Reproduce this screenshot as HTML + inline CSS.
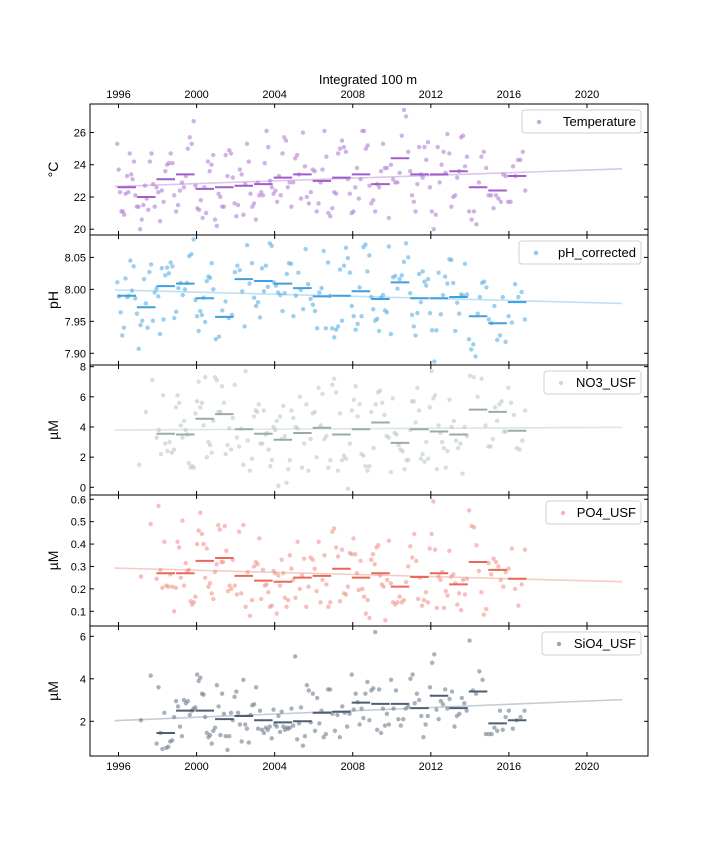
<!DOCTYPE html>
<html><head><meta charset="utf-8"><style>
body{margin:0;background:#fff;}
svg{display:block;font-family:"Liberation Sans",sans-serif;}
</style></head><body>
<svg id="chart" width="720" height="864" viewBox="0 0 720 864"></svg>
<script>
const years=[1996,1997,1998,1999,2000,2001,2002,2003,2004,2005,2006,2007,2008,2009,2010,2011,2012,2013,2014,2015,2016];
const xTicks=[1996,2000,2004,2008,2012,2016,2020];
// Temperature
const tempYears=years;
const tempPoints=[[25.3,23.7,22.3,21.1,21.1,20.9,22.2,23.3,22.3,24.7,23.4,23.1,24.2,22.1],[21.4,21.4,20.0,20.6,21.5,22.7,21.9,21.2,24.2,24.7,22.8,21.4],[22.6,22.3,20.5,22.4,21.7,23.6,24.0,24.1,24.7,24.1,22.1],[21.1,21.5,22.4,22.9,22.6,23.3,25.0,25.7,25.3,26.7],[22.7,21.3,21.2,21.8,20.7,22.6,21.0,24.2,23.6,24.0,24.6],[20.6,20.2,22.2,22.0,21.4,21.4,24.6,23.3,24.9,24.7,23.2],[21.6,20.8,21.5,23.7,23.4,20.9,22.8,25.3,24.2,22.2,21.4],[21.6,20.6,22.9,22.1,22.3,22.1,24.1,26.1,25.1,23.0,22.6],[22.2,22.4,21.7,23.3,22.1,24.7,25.7,25.5,22.6,22.9,21.4],[22.9,24.4,24.6,23.4,21.9,26.0,23.9,22.0,21.6,22.3],[23.7,23.6,21.1,21.6,22.9,23.7,26.1,24.5,21.0,20.8],[21.3,22.3,22.2,24.7,25.0,25.5,25.1,24.8,23.1,22.2],[21.0,21.1,22.6,23.8,21.9,23.1,26.1,26.1,25.0,25.2,22.7],[21.6,21.8,21.1,22.8,22.6,23.6,25.3,23.8,23.8,20.7],[24.0,23.1,22.9,22.9,23.5,25.8,27.4,27.0,24.8],[23.6,22.1,21.7,21.1,22.8,25.1,23.4,23.2,25.1,24.3,25.4],[22.6,21.1,20.0,20.9,25.1,22.9,24.0,24.8,23.5,25.9],[24.7,21.4,22.0,22.1,23.2,23.6,25.7,25.8,23.9,24.5],[21.1,20.6,21.1,20.3,22.9,24.5,24.8,23.8],[22.1,22.1,21.3,22.1,21.9,21.7,23.4,23.3],[21.7,21.7,23.9,23.3,24.3,24.3,24.8,22.4]];
const tempMeans=[22.6,22.0,23.1,23.4,22.5,22.6,22.7,22.8,23.2,23.4,23.0,23.2,23.4,22.8,24.4,23.4,23.4,23.6,22.6,22.4,23.3];
const tempTrend=[22.65,23.75];
const tempTicks=[20,22,24,26];
// pH
const phYears=years;
const phPoints=[[8.011,7.989,7.964,7.928,7.940,8.017,7.988,7.990,8.045,7.998,8.036,7.986],[7.962,7.907,7.944,7.951,8.016,7.978,7.940,8.027,8.039,7.951,7.995],[8.001,7.989,7.930,8.033,7.953,8.022,8.034,8.025,8.042,8.036,7.955],[7.965,8.002,8.010,7.991,8.000,8.010,8.052,8.055,8.078],[7.983,7.958,7.935,7.966,7.960,7.987,7.949,8.013,8.020,8.018,8.041,8.000],[7.922,7.926,7.967,7.981,7.955,7.960],[8.027,8.037,8.030,7.997,7.942,8.069,8.009,8.041],[7.987,7.974,7.980,7.956,8.033,7.997,8.037,8.004,8.072,8.068],[8.011,8.006,7.995,7.991,7.966,7.994,8.024,8.041,8.040],[7.958,7.990,8.026,7.999,7.969,8.063,8.008,7.985],[7.976,7.966,7.939,7.995,8.002,8.060,7.939,8.042,7.990],[7.939,7.925,7.937,7.942,8.031,7.951,8.037,8.065,8.049,8.026],[7.974,7.958,7.937,7.946,8.003,7.958,8.066,8.070,8.028,8.053],[7.988,7.969,7.951,7.954,7.935,7.987,7.991,7.967,7.964,8.067],[7.930,8.019,8.021,8.001,8.016,8.022,8.043,8.072,8.050],[7.994,7.960,7.942,7.928,7.963,8.024,7.980,8.028,8.012,8.006,8.016],[7.963,7.936,7.887,7.936,8.026,7.961,7.991,8.020,8.009],[8.047,8.046,8.010,7.935,7.979,7.962,7.992,7.990,8.040,7.992],[7.922,7.906,7.914,7.895,7.962,7.988,8.010,8.012,8.003],[7.953,7.947,7.974,7.921,7.928,7.988,7.918],[7.958,7.948,8.008,7.988,7.996,7.953]];
const phMeans=[7.990,7.972,8.005,8.009,7.986,7.957,8.016,8.013,8.009,8.002,7.989,7.990,7.997,7.985,8.011,7.986,7.986,7.988,7.958,7.947,7.980];
const phTrend=[7.999,7.978];
const phTicks=[7.90,7.95,8.00,8.05];
// Nutrients (start 1997/1998)
const nutYears=[1997,1998,1999,2000,2001,2002,2003,2004,2005,2006,2007,2008,2009,2010,2011,2012,2013,2014,2015,2016];
const meanYears=[1998,1999,2000,2001,2002,2003,2004,2005,2006,2007,2008,2009,2010,2011,2012,2013,2014,2015,2016];
const no3Points=[[1.5,5.0,7.1],[3.3,3.8,2.2,6.1,2.9,2.4,3.0,2.3,2.5],[5.3,6.1,5.6,4.1,3.3,4.4,3.8,3.5,1.6,1.3,1.4,1.3],[4.9,5.7,7.0,5.3,5.6,4.1,7.3,2.0,3.0,2.8,2.3,4.4],[7.3,7.1,5.0,5.0,6.7,5.6,2.2,2.8,3.9,2.5,4.6],[6.8,3.3,2.7,3.9,1.5,7.7,3.1,1.1,1.9],[4.7,5.1,5.0,5.5,2.9,2.9,5.1,3.5,3.6,2.5,1.4,1.8],[4.0,3.8,4.4,0.1,4.7,3.2,5.4,3.4,0.3,1.2,1.8,5.1],[4.6,4.0,3.9,6.0,1.3,2.9,5.5,1.1,3.2],[4.9,5.0,2.0,6.6,4.1,6.2,3.2,3.4,1.3,1.8],[6.8,7.2,6.3,1.1,4.9,1.8,2.1,1.9,-0.1,2.9],[5.1,5.8,6.7,4.7,5.5,2.2,2.1,1.4,1.1,1.4],[5.0,2.6,5.5,6.3,6.4,5.6,4.8,3.4,3.3],[1.0,5.9,3.6,3.5,2.8,2.5,2.4,1.2,1.8,1.8],[3.8,5.7,5.7,4.3,6.6,5.1,1.9,2.2,1.7,3.0,1.9],[5.3,7.7,5.9,6.1,1.2,4.1,3.6,3.0,2.6,1.3,2.4],[5.8,4.0,4.4,3.1,2.6,2.9,0.9,4.0,3.4],[7.4,7.3,6.0,7.2,4.1],[2.7,2.7,3.2,5.3,4.4,5.5,5.7,3.7,3.7],[6.6,5.6,4.8,2.6,2.5,3.1,5.1]];
const no3Means=[3.55,3.5,4.55,4.85,3.85,3.55,3.15,3.6,3.95,3.5,3.85,4.3,2.95,3.85,3.7,3.5,5.15,5.0,3.75];
const no3Trend=[3.8,3.98];
const no3Ticks=[0,2,4,6,8];
const po4Points=[[0.255,0.49],[0.245,0.57,0.285,0.205,0.41,0.215,0.21,0.265,0.21,0.1],[0.205,0.41,0.385,0.25,0.505,0.215,0.315,0.28,0.285,0.145,0.13,0.14],[0.165,0.4,0.46,0.54,0.445,0.4,0.25,0.38,0.21,0.225,0.18,0.155],[0.275,0.31,0.485,0.465,0.32,0.32,0.48,0.37,0.19,0.215,0.2,0.33],[0.215,0.175,0.455,0.18,0.485,0.12,0.275,0.08,0.15],[0.3,0.32,0.31,0.425,0.155,0.285,0.215,0.22,0.185,0.12,0.125],[0.28,0.27,0.09,0.26,0.215,0.33,0.27,0.16,0.12,0.15,0.35,0.29],[0.24,0.16,0.41,0.2,0.26,0.335,0.12,0.21,0.34],[0.33,0.29,0.19,0.41,0.14,0.24,0.35,0.22,0.12,0.14],[0.455,0.47,0.385,0.345,0.145,0.375,0.18,0.175,0.21,0.36],[0.355,0.425,0.355,0.27,0.195,0.325,0.2,0.165,0.09,0.15,0.07],[0.33,0.355,0.31,0.385,0.395,0.26,0.22,0.21,0.06,0.24,0.415],[0.225,0.14,0.13,0.14,0.165,0.14,0.15,0.23,0.3],[0.39,0.34,0.445,0.325,0.155,0.25,0.125,0.15,0.185,0.14],[0.38,0.445,0.59,0.375,0.115,0.255,0.24,0.275,0.115,0.19,0.17],[0.37,0.255,0.265,0.225,0.13,0.18,0.105,0.24,0.175,0.245],[0.55,0.48,0.475,0.395,0.28,0.185,0.085,0.11],[0.315,0.265,0.335,0.32,0.3,0.24,0.21,0.275],[0.29,0.38,0.2,0.125,0.22,0.375]];
const po4Means=[0.27,0.27,0.325,0.338,0.258,0.237,0.232,0.25,0.258,0.29,0.25,0.27,0.21,0.253,0.27,0.22,0.32,0.285,0.245];
const po4Trend=[0.293,0.232];
const po4Ticks=[0.1,0.2,0.3,0.4,0.5,0.6];
const sio4Points=[[2.05,4.15],[0.95,3.6,1.45,0.7,2.4,0.75,0.8,1.05,1.1,2.2],[2.95,2.7,1.75,1.3,3.0,2.85,2.95,2.3,2.5,2.6],[2.65,4.2,3.9,4.05,3.3,3.25,2.2,1.45,1.25,1.35,0.95,1.55],[1.7,3.7,2.7,1.35,3.3,2.35,1.3,0.65,1.3,2.4,2.05],[3.15,3.4,2.4,1.85,1.05,3.95,1.85,1.65,1.0,2.3,2.75],[2.8,3.6,1.65,2.5,1.6,1.45,1.7,1.6,1.75,1.2],[2.55,1.85,1.75,2.25,1.5,2.45,1.75,1.6,1.7,1.65,1.7,2.6],[1.8,5.05,1.15,1.9,2.65,0.85,1.3,3.7,3.45,1.95],[3.3,1.55,3.1,1.9,2.5,1.25,1.4,3.5,3.5],[2.35,1.55,2.3,1.25,2.7,2.4,1.75,2.35],[4.2,2.55,3.3,2.9,1.85,2.6,2.15,3.3,3.85,2.05],[3.45,3.55,6.2,1.6,3.5,1.45,2.6,1.8,2.35,1.85],[3.95,2.6,3.45,2.1,1.8,2.1,2.6,2.7],[4.0,4.2,2.85,3.3,3.0,2.25,1.25,1.85,2.25],[3.6,4.75,5.15,2.55,2.1,2.95,2.8,3.5,2.6],[3.05,3.4,1.75,2.25,2.35,3.1,2.85,2.5],[5.8,3.45,3.3,4.35,3.95,1.4],[1.4,1.4,1.7,1.55,2.5,1.6,2.2],[2.5,1.65,2.05,2.2,2.5]];
const sio4Means=[1.45,2.5,2.5,2.1,2.25,2.05,1.95,2.0,2.4,2.45,2.88,2.82,2.82,2.62,3.2,2.62,3.4,1.9,2.05];
const sio4Trend=[2.03,3.02];
const sio4Ticks=[2,4,6];

const NS='http://www.w3.org/2000/svg';
const svg=document.getElementById('chart');
function mk(tag,attrs,parent,text){const e=document.createElementNS(NS,tag);for(const k in attrs)e.setAttribute(k,attrs[k]);if(text!==undefined)e.textContent=text;(parent||svg).appendChild(e);return e;}
const L=90,R=648;
const x=v=>118.5+(v-1996)*(587-118.5)/24;

const panels=[
 {name:'temperature',label:'°C',legend:'Temperature',top:104,bot:235,ymin:19.64,ymax:27.77,pts:tempPoints,py:tempYears,means:tempMeans,my:years,trend:tempTrend,ticks:tempTicks,fmt:v=>v.toFixed(0),pc:'#b37fd4',mc:'#a35cc9',tc:'#dcc6ea',lw:119},
 {name:'ph',label:'pH',legend:'pH_corrected',top:235,bot:365,ymin:7.8817,ymax:8.085,pts:phPoints,py:phYears,means:phMeans,my:years,trend:phTrend,ticks:phTicks,fmt:v=>v.toFixed(2),pc:'#5dade2',mc:'#3f9fe0',tc:'#c2e0f4',lw:122},
 {name:'no3',label:'µM',legend:'NO3_USF',top:365,bot:495,ymin:-0.51,ymax:8.11,pts:no3Points,py:nutYears,means:no3Means,my:meanYears,trend:no3Trend,ticks:no3Ticks,fmt:v=>v.toFixed(0),pc:'#bcc8c8',mc:'#9aabab',tc:'#dde5e5',lw:97},
 {name:'po4',label:'µM',legend:'PO4_USF',top:495,bot:626,ymin:0.0344,ymax:0.619,pts:po4Points,py:nutYears,means:po4Means,my:meanYears,trend:po4Trend,ticks:po4Ticks,fmt:v=>v.toFixed(1),pc:'#f1948a',mc:'#e8685a',tc:'#f8cbc5',lw:95},
 {name:'sio4',label:'µM',legend:'SiO4_USF',top:626,bot:756,ymin:0.367,ymax:6.485,pts:sio4Points,py:nutYears,means:sio4Means,my:meanYears,trend:sio4Trend,ticks:sio4Ticks,fmt:v=>v.toFixed(0),pc:'#6f7f90',mc:'#4d5f72',tc:'#c5ccd3',lw:99}
];

panels.forEach((p,pi)=>{
  const g=mk('g',{});
  
  
  const y=v=>p.bot-(v-p.ymin)/(p.ymax-p.ymin)*(p.bot-p.top);
  // trend
  const tr=mk('line',{x1:x(1995.8),y1:y(p.trend[0]),x2:x(2021.8),y2:y(p.trend[1]),stroke:p.tc,'stroke-width':1.6},g);
  
  
  // points
  p.pts.forEach((arr,yi)=>{
    const yr=p.py[yi];
    arr.forEach((v,i)=>{
      const c=mk('circle',{cx:x(yr-0.1+(i+0.5)/arr.length),cy:y(v),r:2.2,fill:p.pc,'fill-opacity':0.6},g);
      
      
    });
  });
  // means
  p.means.forEach((v,i)=>{
    const yr=p.my[i];
    const m=mk('line',{x1:x(yr-0.08)+0.5,y1:y(v),x2:x(yr+0.92)-0.5,y2:y(v),stroke:p.mc,'stroke-width':2},g);
    
    
  });
  // frame
  const fr=mk('rect',{x:L,y:p.top,width:R-L,height:p.bot-p.top,fill:'none',stroke:'#000','stroke-width':1},g);
  
  
  // y ticks
  p.ticks.forEach(t=>{
    const yy=y(t);
    mk('line',{x1:L,y1:yy,x2:L+4,y2:yy,stroke:'#000'},g);
    mk('line',{x1:R,y1:yy,x2:R-4,y2:yy,stroke:'#000'},g);
    const tl=mk('text',{x:L-4,y:yy+4,'font-size':11,'text-anchor':'end',fill:'#000'},g,p.fmt(t));
    
    
  });
  // x ticks
  xTicks.forEach(t=>{
    mk('line',{x1:x(t),y1:p.top,x2:x(t),y2:p.top+4,stroke:'#000'},g);
    mk('line',{x1:x(t),y1:p.bot,x2:x(t),y2:p.bot-4,stroke:'#000'},g);
  });
  // y label
  const yl=mk('text',{x:0,y:0,'font-size':14,'text-anchor':'middle',transform:`translate(58,${(p.top+p.bot)/2}) rotate(-90)`},g,p.label);
  
  
  // legend
  const lg=mk('g',{},g);
  
  
  mk('rect',{x:641-p.lw,y:p.top+6,width:p.lw,height:23,rx:3,fill:'#fff','fill-opacity':0.85,stroke:'#d0d0d0'},lg);
  mk('circle',{cx:641-p.lw+17,cy:p.top+18,r:2.2,fill:p.pc,'fill-opacity':0.7},lg);
  mk('text',{x:636,y:p.top+22,'font-size':13,'text-anchor':'end'},lg,p.legend);
});
// x tick labels top and bottom
xTicks.forEach(t=>{
  const a=mk('text',{x:x(t),y:98,'font-size':11,'text-anchor':'middle'},svg,String(t));
  
  
  const b=mk('text',{x:x(t),y:770,'font-size':11,'text-anchor':'middle'},svg,String(t));
  
  
});
const title=mk('text',{x:368,y:84,'font-size':13,'text-anchor':'middle'},svg,'Integrated 100 m');


</script>
</body></html>
